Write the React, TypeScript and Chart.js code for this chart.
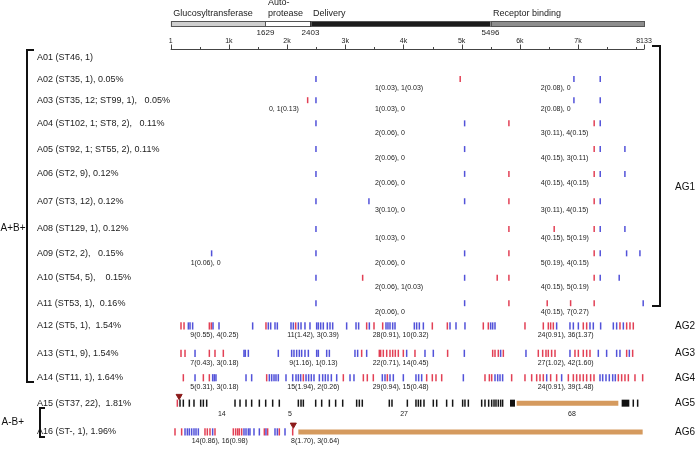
import React, { useEffect, useRef } from "react";
import { Chart, registerables } from "chart.js";
Chart.register(...registerables);

// ---------- data ----------
const SEQ_START = 1;
const SEQ_END = 8133;

const domainNames = ["Glucosyltransferase", "Auto-|protease", "Delivery", "Receptor binding"];
const domainStarts = [1, 1629, 2403, 5496];
const domainEnds = [1629, 2403, 5496, 8133];
const boundaryLabels = [1629, 2403, 5496];

const rulerMajor = [1, 1000, 2000, 3000, 4000, 5000, 6000, 7000, 8133];
const rulerLabels = ["1", "1k", "2k", "3k", "4k", "5k", "6k", "7k", "8133"];
const rulerMinor = [500, 1500, 2500, 3500, 4500, 5500, 6500, 7500, 8000];

const rowNames = [
  "A01 (ST46, 1)",
  "A02 (ST35, 1), 0.05%",
  "A03 (ST35, 12; ST99, 1),   0.05%",
  "A04 (ST102, 1; ST8, 2),   0.11%",
  "A05 (ST92, 1; ST55, 2), 0.11%",
  "A06 (ST2, 9), 0.12%",
  "A07 (ST3, 12), 0.12%",
  "A08 (ST129, 1), 0.12%",
  "A09 (ST2, 2),   0.15%",
  "A10 (ST54, 5),    0.15%",
  "A11 (ST53, 1),  0.16%",
  "A12 (ST5, 1),  1.54%",
  "A13 (ST1, 9), 1.54%",
  "A14 (ST11, 1), 1.64%",
  "A15 (ST37, 22),  1.81%",
  "A16 (ST-, 1), 1.96%",
];

const redMarks: number[][] = [
  [],
  [4975],
  [2354],
  [5812, 7277],
  [7277],
  [5812, 7277],
  [5812, 7277],
  [5812, 6590, 7277],
  [5812, 7277],
  [3299, 5611, 5812, 7277],
  [5812, 6470, 6872, 7277],
  [178, 230, 665, 699, 1638, 2148, 3368, 3494, 3643, 4496, 4754, 5372, 5458, 6088, 6403, 6489, 6529, 6575, 7090, 7148, 7720, 7835, 7892, 7949],
  [178, 247, 665, 762, 905, 3282, 3585, 3608, 3654, 3712, 3769, 3815, 3860, 3912, 3998, 4198, 4759, 5533, 5573, 5630, 5716, 6317, 6392, 6449, 6489, 6546, 6604, 6947, 7005, 7090, 7148, 7205, 7835, 7938],
  [218, 562, 665, 1650, 2280, 2967, 3311, 3379, 3482, 3723, 4399, 4496, 4559, 4657, 5401, 5476, 5516, 5859, 6088, 6203, 6289, 6346, 6403, 6529, 6632, 6833, 6919, 6976, 7033, 7090, 7148, 7216, 7274, 7692, 7749, 7806, 7864, 7978, 8110],
  [115],
  [75, 189, 590, 630, 676, 762, 1077, 1117, 1152, 1180, 1220, 1610, 1667, 1867, 2097],
];

const blueMarks: number[][] = [
  [],
  [2497, 6929, 7381],
  [2497, 6929, 7381],
  [2497, 5051, 7381],
  [2497, 5051, 7381, 7805],
  [2497, 5051, 7381, 7805],
  [2497, 3407, 5051, 7381],
  [2497, 7381, 7805],
  [704, 2497, 5051, 7381, 7834, 8063],
  [2497, 5051, 7381, 7707],
  [2497, 5051, 8119],
  [304, 333, 378, 728, 831, 1409, 1678, 1719, 1793, 1833, 2068, 2108, 2194, 2240, 2308, 2394, 2509, 2538, 2578, 2623, 2692, 2738, 2784, 3024, 3185, 3230, 3414, 3700, 3734, 3769, 3815, 3855, 4187, 4227, 4273, 4342, 4800, 4903, 5057, 5498, 5533, 5573, 6632, 6861, 6919, 7005, 7205, 7262, 7388, 7606, 7663, 7778],
  [419, 1260, 1283, 1335, 1850, 2079, 2119, 2165, 2211, 2251, 2308, 2366, 2509, 2538, 2681, 2727, 3167, 3213, 3368, 4055, 4370, 4513, 5046, 5670, 6105, 6861, 7348, 7491, 7663, 7720, 7881],
  [419, 722, 751, 779, 1295, 1392, 1696, 1736, 1776, 1810, 1850, 1982, 2097, 2154, 2194, 2234, 2326, 2371, 2417, 2463, 2555, 2612, 2658, 2704, 2761, 2853, 3082, 3150, 3637, 3683, 3769, 3826, 3998, 4215, 4261, 4313, 5029, 5573, 5619, 5659, 5704, 6461, 6718, 7377, 7423, 7480, 7537, 7595, 7640],
  [],
  [247, 287, 321, 361, 401, 436, 476, 722, 1260, 1295, 1335, 1363, 1432, 1524, 1638, 1793, 1833, 1965],
];

// A15 (row 14) mutations in black
const blackRow = 14;
const blackMarks = [161, 218, 321, 401, 516, 562, 619, 1106, 1192, 1295, 1392, 1524, 1633, 1753, 1867, 2194, 2240, 2280, 2492, 2595, 2727, 2835, 2956, 3196, 3242, 3293, 3757, 3803, 4067, 4215, 4256, 4296, 4353, 4513, 4571, 4742, 4845, 5017, 5057, 5115, 5344, 5401, 5464, 5516, 5556, 5590, 5630, 5670, 5704, 7949, 8024];
const blackBlocks: [number, number, number][] = [[14, 5831, 5917], [14, 7749, 7881]];
const deletions: [number, number, number][] = [[14, 5945, 7692], [15, 2194, 8110]];
const stopSites: [number, number][] = [[14, 146], [15, 2108]];

// [row, position, text, align]
const countLabels: [number, number, string, string][] = [
  [1, 3510, "1(0.03), 1(0.03)", "left"], [1, 6357, "2(0.08), 0", "left"],
  [2, 1689, "0, 1(0.13)", "left"], [2, 3510, "1(0.03), 0", "left"], [2, 6357, "2(0.08), 0", "left"],
  [3, 3510, "2(0.06), 0", "left"], [3, 6357, "3(0.11), 4(0.15)", "left"],
  [4, 3510, "2(0.06), 0", "left"], [4, 6357, "4(0.15), 3(0.11)", "left"],
  [5, 3510, "2(0.06), 0", "left"], [5, 6357, "4(0.15), 4(0.15)", "left"],
  [6, 3510, "3(0.10), 0", "left"], [6, 6357, "3(0.11), 4(0.15)", "left"],
  [7, 3510, "1(0.03), 0", "left"], [7, 6357, "4(0.15), 5(0.19)", "left"],
  [8, 344, "1(0.06), 0", "left"], [8, 3510, "2(0.06), 0", "left"], [8, 6357, "5(0.19), 4(0.15)", "left"],
  [9, 3510, "2(0.06), 1(0.03)", "left"], [9, 6357, "4(0.15), 5(0.19)", "left"],
  [10, 3510, "2(0.06), 0", "left"], [10, 6357, "4(0.15), 7(0.27)", "left"],
  [11, 339, "9(0.55), 4(0.25)", "left"], [11, 2004, "11(1.42), 3(0.39)", "left"], [11, 3471, "28(0.91), 10(0.32)", "left"], [11, 6306, "24(0.91), 36(1.37)", "left"],
  [12, 339, "7(0.43), 3(0.18)", "left"], [12, 2039, "9(1.16), 1(0.13)", "left"], [12, 3471, "22(0.71), 14(0.45)", "left"], [12, 6306, "27(1.02), 42(1.60)", "left"],
  [13, 339, "5(0.31), 3(0.18)", "left"], [13, 2004, "15(1.94), 2(0.26)", "left"], [13, 3471, "29(0.94), 15(0.48)", "left"], [13, 6306, "24(0.91), 39(1.48)", "left"],
  [14, 880, "14", "center"], [14, 2050, "5", "center"], [14, 4010, "27", "center"], [14, 6896, "68", "center"],
  [15, 362, "14(0.86), 16(0.98)", "left"], [15, 2070, "8(1.70), 3(0.64)", "left"],
];

const agLabels: [number, string][] = [[11, "AG2"], [12, "AG3"], [13, "AG4"], [14, "AG5"], [15, "AG6"]];

// ---------- layout / style ----------
const ROW_Y = [54, 75.7, 97.3, 121, 147.3, 172.7, 200.7, 229, 254, 279, 305, 328.3, 356.3, 381.3, 407.3, 436.7];
const FONT = '"Liberation Sans", Arial, Helvetica, sans-serif';
const RED = "rgba(222, 38, 62, 0.88)";
const BLUE = "rgba(58, 58, 212, 0.88)";
const ORANGE = "#d59a5e";
const DOMAIN_FILLS = ["#cfcfcf", "#ffffff", "#1c1c1c", "#8e8e8e"];

const markRadius = (row: number) => (row >= 11 ? 3.6 : 3);

function markDataset(rows: number[][], color: string) {
  const data: any[] = [];
  rows.forEach((list, r) => list.forEach((x) => data.push({ x, y: ROW_Y[r], r })));
  return {
    data,
    showLine: false,
    pointStyle: "line",
    rotation: 90,
    pointRadius: (c: any) => markRadius(c.raw ? c.raw.r : 11),
    pointHoverRadius: (c: any) => markRadius(c.raw ? c.raw.r : 11),
    pointBorderColor: color,
    pointBackgroundColor: color,
    pointBorderWidth: 1.5,
    pointHoverBorderWidth: 1.5,
    clip: false,
  };
}

function barDataset(row: number, s: number, e: number, color: string, width: number) {
  return {
    data: [{ x: s, y: ROW_Y[row] }, { x: e, y: ROW_Y[row] }],
    showLine: true,
    borderColor: color,
    borderWidth: width,
    borderCapStyle: "butt",
    pointRadius: 0,
    pointHoverRadius: 0,
    clip: false,
  };
}

const overlay = {
  id: "overlay",
  afterDatasetsDraw(chart: any) {
    const ctx = chart.ctx as CanvasRenderingContext2D;
    const X = (v: number) => chart.scales.x.getPixelForValue(v);
    const Y = (v: number) => chart.scales.y.getPixelForValue(v);
    ctx.save();

    // domain bar
    const barTop = 21;
    const barH = 6;
    domainStarts.forEach((s, i) => {
      const x0 = X(s);
      const x1 = X(domainEnds[i]);
      ctx.fillStyle = DOMAIN_FILLS[i];
      ctx.fillRect(x0, barTop, x1 - x0, barH);
      ctx.strokeStyle = "#555";
      ctx.lineWidth = 1;
      ctx.strokeRect(Math.round(x0) + 0.5, barTop + 0.5, Math.round(x1 - x0), barH - 1);
    });
    ctx.fillStyle = "#222";
    ctx.font = `9px ${FONT}`;
    ctx.textBaseline = "middle";
    ctx.textAlign = "left";
    domainNames.forEach((n, i) => {
      const parts = n.split("|");
      const x = X(domainStarts[i]) + 2.5;
      if (parts.length === 2) {
        ctx.fillText(parts[0], x, 3);
        ctx.fillText(parts[1], x, 14);
      } else {
        ctx.fillText(n, x, 14);
      }
    });
    ctx.font = `8px ${FONT}`;
    ctx.textAlign = "center";
    boundaryLabels.forEach((b) => ctx.fillText(String(b), X(b), 32.5));

    // ruler
    const rulerY = 49.5;
    ctx.strokeStyle = "#444";
    ctx.lineWidth = 1;
    ctx.beginPath();
    ctx.moveTo(X(SEQ_START), rulerY);
    ctx.lineTo(X(SEQ_END), rulerY);
    rulerMajor.forEach((t) => {
      const x = Math.round(X(t)) + 0.5;
      ctx.moveTo(x, rulerY);
      ctx.lineTo(x, rulerY - 5);
    });
    rulerMinor.forEach((t) => {
      const x = Math.round(X(t)) + 0.5;
      ctx.moveTo(x, rulerY);
      ctx.lineTo(x, rulerY - 2.5);
    });
    ctx.stroke();
    ctx.font = `7px ${FONT}`;
    ctx.fillStyle = "#222";
    rulerMajor.forEach((t, i) => ctx.fillText(rulerLabels[i], X(t), 41));

    // row names
    ctx.font = `9px ${FONT}`;
    ctx.textAlign = "left";
    rowNames.forEach((n, i) => ctx.fillText(n, 37, Y(ROW_Y[i])));

    // count labels
    ctx.font = `7px ${FONT}`;
    countLabels.forEach(([r, pos, text, align]) => {
      ctx.textAlign = align as CanvasTextAlign;
      const off = r === 14 ? 10.5 : 9.3;
      ctx.fillText(text, X(pos), Y(ROW_Y[r]) + off);
    });

    // group labels and brackets
    ctx.font = `10px ${FONT}`;
    ctx.textAlign = "left";
    ctx.fillStyle = "#111";
    ctx.fillText("A+B+", 0.5, 228);
    ctx.fillText("A-B+", 1.5, 422);
    ctx.fillText("AG1", 675, 187);
    agLabels.forEach(([r, t]) => ctx.fillText(t, 675, Y(ROW_Y[r])));

    ctx.strokeStyle = "#111";
    ctx.lineWidth = 2;
    ctx.beginPath();
    ctx.moveTo(34, 50);
    ctx.lineTo(27, 50);
    ctx.lineTo(27, 382);
    ctx.lineTo(34, 382);
    ctx.moveTo(45, 408);
    ctx.lineTo(40, 408);
    ctx.lineTo(40, 437);
    ctx.lineTo(45, 437);
    ctx.moveTo(652, 46);
    ctx.lineTo(660, 46);
    ctx.lineTo(660, 306);
    ctx.lineTo(652, 306);
    ctx.stroke();

    ctx.restore();
  },
};

export default function App() {
  const ref = useRef<HTMLCanvasElement>(null);
  useEffect(() => {
    const datasets: any[] = [];
    deletions.forEach(([r, s, e]) => datasets.push(barDataset(r, s, e, ORANGE, 5)));
    blackBlocks.forEach(([r, s, e]) => datasets.push(barDataset(r, s, e, "#111", 7)));
    const blackRows: number[][] = ROW_Y.map((_, i) => (i === blackRow ? blackMarks : []));
    datasets.push(markDataset(blackRows, "#151515"));
    datasets.push(markDataset(blueMarks, BLUE));
    datasets.push(markDataset(redMarks, RED));
    datasets.push({
      data: stopSites.map(([r, x]) => ({ x, y: ROW_Y[r] - 7.2 })),
      showLine: false,
      pointStyle: "triangle",
      rotation: 180,
      pointRadius: 3.5,
      pointHoverRadius: 3.5,
      pointBackgroundColor: "#8b1a1a",
      pointBorderColor: "#8b1a1a",
      pointBorderWidth: 1,
      clip: false,
    });

    const chart = new Chart(ref.current as HTMLCanvasElement, {
      type: "scatter",
      data: { datasets },
      options: {
        responsive: false,
        animation: false,
        events: [],
        devicePixelRatio: 1,
        layout: { padding: { left: 170.7, right: 52, top: 0, bottom: 0 } },
        scales: {
          x: { type: "linear", min: SEQ_START, max: SEQ_END, display: false },
          y: { type: "linear", min: 0, max: 450, reverse: true, display: false },
        },
        plugins: { legend: { display: false }, tooltip: { enabled: false } },
      } as any,
      plugins: [overlay],
    });
    return () => chart.destroy();
  }, []);
  return (
    <div style={{ position: "absolute", left: 0, top: 0, width: 696, height: 450, background: "#fff" }}>
      <canvas ref={ref} width={696} height={450} style={{ display: "block" }} />
    </div>
  );
}
